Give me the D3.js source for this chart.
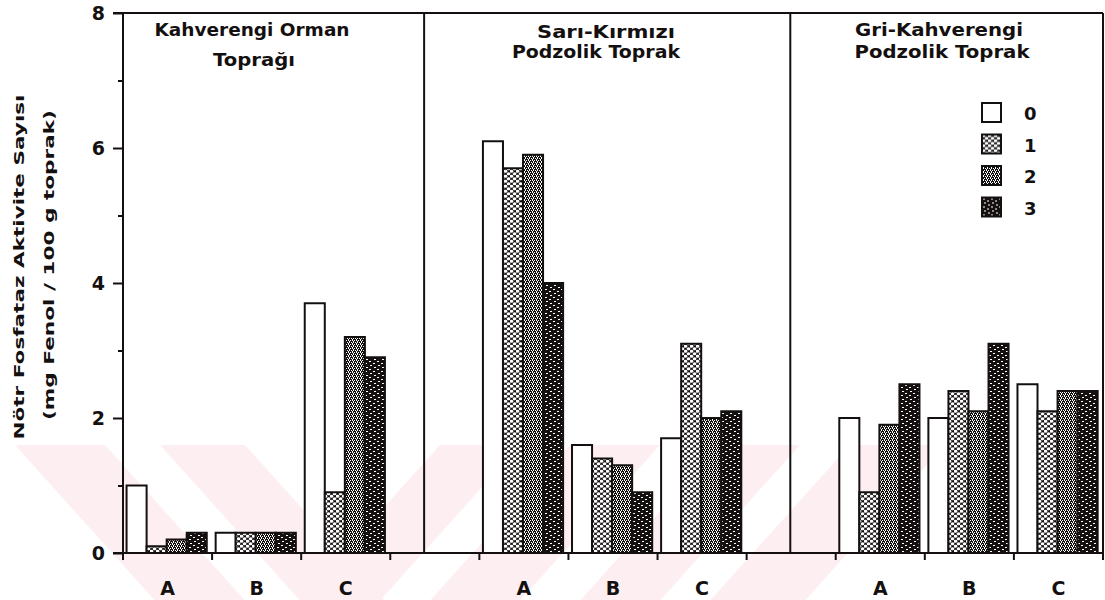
<!DOCTYPE html>
<html><head><meta charset="utf-8">
<script src="https://cdn.jsdelivr.net/npm/d3@7"></script>
<style>body{margin:0;background:#fff}svg{display:block}</style>
</head><body><svg id="c" width="1105" height="600"></svg>
<script>
// ---------- data ----------
const soils = ["Kahverengi Orman Toprağı", "Sarı-Kırmızı Podzolik Toprak", "Gri-Kahverengi Podzolik Toprak"];
const titleLines = [["Kahverengi Orman", "Toprağı"], ["Sarı-Kırmızı", "Podzolik Toprak"], ["Gri-Kahverengi", "Podzolik Toprak"]];
const horizons = ["A", "B", "C"];
const treatments = ["0", "1", "2", "3"];
const kahverengiOrman = [[1.0, 0.1, 0.2, 0.3], [0.3, 0.3, 0.3, 0.3], [3.7, 0.9, 3.2, 2.9]];
const sariKirmizi     = [[6.1, 5.7, 5.9, 4.0], [1.6, 1.4, 1.3, 0.9], [1.7, 3.1, 2.0, 2.1]];
const griKahverengi   = [[2.0, 0.9, 1.9, 2.5], [2.0, 2.4, 2.1, 3.1], [2.5, 2.1, 2.4, 2.4]];
const yTicks = [0, 1, 2, 3, 4, 5, 6, 7, 8];
const yLabelLines = ["Nötr Fosfataz Aktivite Sayısı", "(mg Fenol / 100 g toprak)"];

const soilValues = [kahverengiOrman, sariKirmizi, griKahverengi];

// ---------- layout ----------
const svg = d3.select("#c");
const L = 123, R = 1103, T = 13, B = 553;
const ink = "#141010";
const font = "'DejaVu Sans', sans-serif";

// slots: 3 horizons per soil, one gap slot between soils
const slots = [];
soils.forEach((s, i) => {
  horizons.forEach(h => slots.push(i + "-" + h));
  if (i < soils.length - 1) slots.push("gap" + i);
});
const x0 = d3.scaleBand().domain(slots).range([L, R]).padding(0);
const bw = x0.bandwidth();
const x1 = d3.scaleBand().domain(treatments).range([bw * 0.04, bw * 0.94]).padding(0);
const y = d3.scaleLinear().domain([0, 8]).range([B, T]);

// ---------- patterns ----------
const defs = svg.append("defs");
// coarse white dots on black
const p1 = defs.append("pattern").attr("id", "p1").attr("patternUnits", "userSpaceOnUse").attr("width", 6).attr("height", 5);
p1.append("rect").attr("width", 6).attr("height", 5).attr("fill", ink);
[[1.5, 1.25], [4.5, 3.75], [4.5, -1.25], [-1.5, 3.75], [7.5, 3.75], [1.5, 6.25]].forEach(([cx, cy]) =>
  p1.append("ellipse").attr("cx", cx).attr("cy", cy).attr("rx", 1.8).attr("ry", 1.5).attr("fill", "#fff"));

// fine mesh
const p2 = defs.append("pattern").attr("id", "p2").attr("patternUnits", "userSpaceOnUse").attr("width", 4).attr("height", 4);
p2.append("rect").attr("width", 4).attr("height", 4).attr("fill", ink);
[[0, 0], [2, 0], [1, 1], [3, 2], [1, 2], [0, 3]].forEach(([a, b]) =>
  p2.append("rect").attr("x", a).attr("y", b).attr("width", 1).attr("height", 1).attr("fill", "#fff"));

// near-black speckle
const p3 = defs.append("pattern").attr("id", "p3").attr("patternUnits", "userSpaceOnUse").attr("width", 8).attr("height", 8);
p3.append("rect").attr("width", 8).attr("height", 8).attr("fill", ink);
[[1, 1], [5, 3], [2, 5], [6, 7]].forEach(([a, b]) =>
  p3.append("rect").attr("x", a).attr("y", b).attr("width", 2).attr("height", 1).attr("fill", "#fff"));

const fills = ["#fff", "url(#p1)", "url(#p2)", "url(#p3)"];

// ---------- faint background watermark stripes ----------
const wm = svg.append("g").attr("fill", "#fdeff1");
const wy0 = 445, wy1 = 600, k = 0.9, h = wy1 - wy0;
[[15, 105], [160, 245]].forEach(([a, b]) =>
  wm.append("polygon").attr("points", [[a, wy0], [b, wy0], [b + k * h, wy1], [a + k * h, wy1]].join(" ")));
[[440, 520], [570, 660], [720, 800], [850, 945]].forEach(([a, b]) =>
  wm.append("polygon").attr("points", [[a, wy0], [b, wy0], [b - k * h, wy1], [a - k * h, wy1]].join(" ")));

// ---------- bars ----------
const barData = [];
soilValues.forEach((rows, i) => rows.forEach((vals, j) => vals.forEach((v, t) =>
  barData.push({ slot: i + "-" + horizons[j], t: treatments[t], ti: t, v }))));

svg.append("g").selectAll("rect").data(barData).join("rect")
  .attr("x", d => x0(d.slot) + x1(d.t))
  .attr("y", d => y(d.v))
  .attr("width", x1.bandwidth())
  .attr("height", d => y(0) - y(d.v))
  .attr("fill", d => fills[d.ti])
  .attr("stroke", ink)
  .attr("stroke-width", 2);

// ---------- frame & dividers ----------
const frame = svg.append("g").attr("stroke", ink).attr("stroke-width", 2).attr("fill", "none");
frame.append("line").attr("x1", L - 10).attr("x2", R).attr("y1", y(8)).attr("y2", y(8));
frame.append("line").attr("x1", L - 10).attr("x2", R).attr("y1", y(0)).attr("y2", y(0));
frame.append("line").attr("x1", L).attr("x2", L).attr("y1", y(8)).attr("y2", y(0));
frame.append("line").attr("x1", R).attr("x2", R).attr("y1", y(8)).attr("y2", y(0));
const dividerFrac = [0.38, 0.49];
dividerFrac.forEach((f, i) => {
  const xx = x0("gap" + i) + bw * f;
  frame.append("line").attr("x1", xx).attr("x2", xx).attr("y1", y(8)).attr("y2", y(0));
});

// ---------- y axis ----------
const yMajor = svg.append("g").attr("transform", `translate(${L},0)`)
  .call(d3.axisLeft(y).tickValues(yTicks.filter(v => v % 2 === 0)).tickSize(10).tickPadding(8).tickFormat(d3.format("d")));
yMajor.select(".domain").remove();
yMajor.selectAll("line").attr("stroke", ink).attr("stroke-width", 2);
yMajor.selectAll("text").attr("font-family", font).attr("font-weight", "bold").attr("font-size", 19).attr("fill", ink).attr("dy", "0.36em");

const yMinor = svg.append("g").attr("transform", `translate(${L},0)`)
  .call(d3.axisLeft(y).tickValues(yTicks.filter(v => v % 2 === 1)).tickSize(5).tickFormat(""));
yMinor.select(".domain").remove();
yMinor.selectAll("line").attr("stroke", ink).attr("stroke-width", 2);

// ---------- x ticks & labels ----------
const tickXs = slots.map(s => x0(s)).concat([R]);
svg.append("g").selectAll("line").data(tickXs).join("line")
  .attr("x1", d => d).attr("x2", d => d).attr("y1", B).attr("y2", B + 7)
  .attr("stroke", ink).attr("stroke-width", 2);

const xLabels = slots.filter(s => !s.startsWith("gap"));
svg.append("g").selectAll("text").data(xLabels).join("text")
  .attr("x", s => x0(s) + bw / 2)
  .attr("y", 595)
  .attr("text-anchor", "middle")
  .attr("font-family", font).attr("font-weight", "bold").attr("font-size", 19).attr("fill", ink)
  .text(s => s.split("-")[1]);

// ---------- panel titles ----------
const titlePos = [[[252, 36, 195], [254, 66, 82]], [[606, 38, 138], [596, 58, 168]], [[939, 36, 168], [942, 58, 175]]];
titleLines.forEach((lines, i) => lines.forEach((txt, j) => {
  const [cx, by, w] = titlePos[i][j];
  svg.append("text").attr("x", cx).attr("y", by).attr("text-anchor", "middle")
    .attr("font-family", font).attr("font-weight", "bold").attr("font-size", 18).attr("fill", ink)
    .attr("textLength", w).attr("lengthAdjust", "spacingAndGlyphs")
    .text(txt);
}));

// ---------- y label ----------
const yLab = [[24, 267, 345], [54, 265, 310]];
yLabelLines.forEach((txt, i) => {
  const [bx, cy, w] = yLab[i];
  svg.append("text").attr("transform", `translate(${bx},${cy}) rotate(-90)`)
    .attr("text-anchor", "middle")
    .attr("font-family", font).attr("font-weight", "bold").attr("font-size", 14).attr("fill", ink)
    .attr("textLength", w).attr("lengthAdjust", "spacingAndGlyphs")
    .text(txt);
});

// ---------- legend ----------
const leg = svg.append("g").attr("transform", "translate(982,103)");
treatments.forEach((t, i) => {
  const g = leg.append("g").attr("transform", `translate(0,${i * 31.5})`);
  g.append("rect").attr("width", 19).attr("height", 19).attr("fill", fills[i]).attr("stroke", ink).attr("stroke-width", 2);
  g.append("text").attr("x", 42).attr("y", 17).attr("font-family", font).attr("font-weight", "bold")
    .attr("font-size", 18).attr("fill", ink).text(t);
});
</script></body></html>
